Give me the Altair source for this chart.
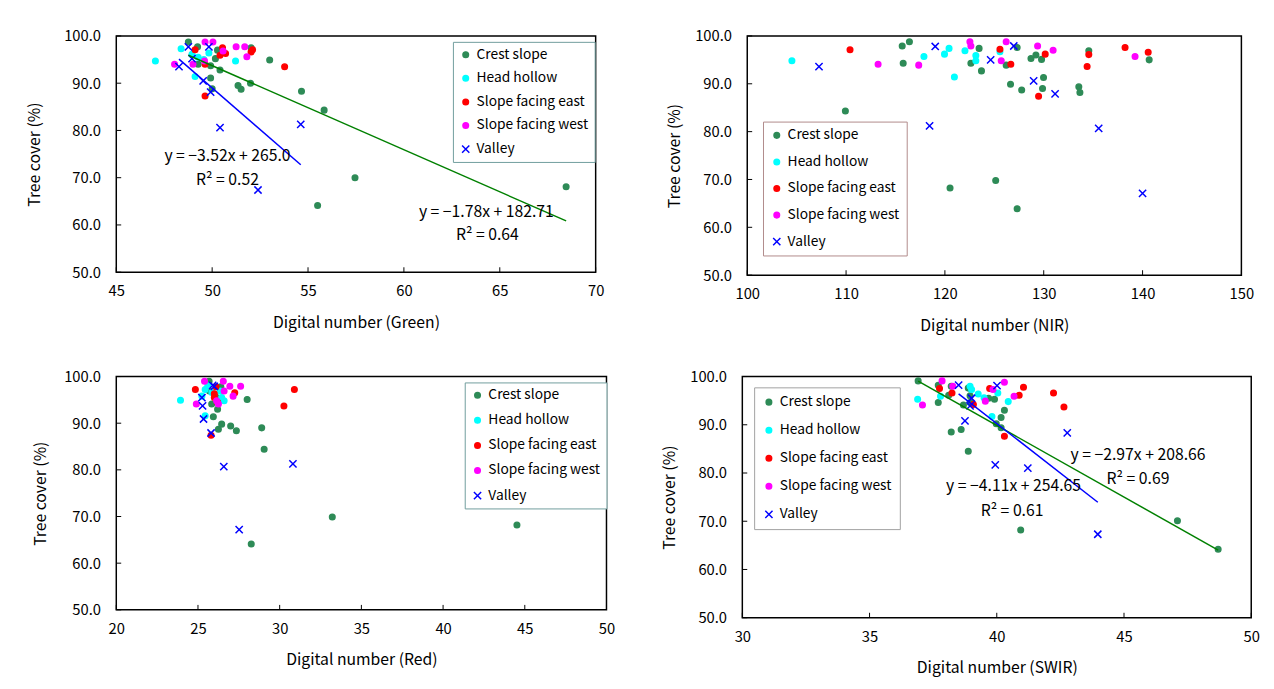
import altair as alt
import pandas as pd

FONT = "Noto Sans CJK JP"
GROUPS = ["Crest slope", "Head hollow", "Slope facing east", "Slope facing west", "Valley"]
COLORS = ["#2E8B57", "#00FFFF", "#FF0000", "#FF00FF", "#0000FF"]
FILLS = ["#2E8B57", "#00FFFF", "#FF0000", "#FF00FF", "transparent"]
CROSS = "M-1.3,-1.3L1.3,1.3M-1.3,1.3L1.3,-1.3"
SHAPES = ["circle", "circle", "circle", "circle", CROSS]
Y_TICKS = [50, 60, 70, 80, 90, 100]

# ---------------- Panel 1: Green ----------------
G_CREST_X = [48.76, 49.24, 50.28, 50.17, 52.03, 53.00, 49.27, 49.92, 50.41, 49.92, 51.35, 51.51, 52.00, 54.66, 50.00, 55.84, 57.45, 55.50, 68.46]
G_CREST_Y = [98.7, 97.7, 97.0, 95.2, 97.5, 94.9, 94.0, 93.7, 92.8, 91.1, 89.5, 88.7, 90.0, 88.3, 88.8, 84.3, 70.0, 64.1, 68.1]
G_HEAD_X = [48.38, 47.04, 49.83, 48.95, 49.27, 51.22, 49.57, 49.11]
G_HEAD_Y = [97.3, 94.7, 96.4, 96.1, 95.5, 94.7, 95.0, 91.4]
G_EAST_X = [49.11, 50.54, 50.41, 50.70, 52.11, 52.03, 53.78, 49.63, 49.63]
G_EAST_Y = [97.1, 97.5, 95.9, 96.3, 97.1, 96.6, 93.5, 94.0, 87.3]
G_WEST_X = [49.63, 50.04, 50.57, 51.25, 51.70, 51.81, 48.04, 49.00, 49.60]
G_WEST_Y = [98.7, 98.7, 96.8, 97.7, 97.7, 95.6, 94.0, 94.0, 94.7]
G_VALLEY_X = [48.76, 49.83, 48.27, 48.95, 49.53, 49.92, 50.41, 54.62, 52.39]
G_VALLEY_Y = [97.7, 97.7, 93.5, 95.2, 90.5, 88.1, 80.6, 81.3, 67.4]

# ---------------- Panel 2: NIR ----------------
N_CREST_X = [115.68, 116.41, 115.78, 122.63, 123.46, 123.70, 126.20, 126.64, 127.31, 127.77, 128.71, 129.21, 129.78, 129.98, 129.88, 133.55, 133.66, 134.56, 140.67, 109.93, 120.52, 125.14, 127.31]
N_CREST_Y = [97.9, 98.8, 94.3, 94.3, 97.4, 92.7, 93.9, 89.9, 97.6, 88.7, 95.3, 96.0, 95.1, 91.3, 89.0, 89.4, 88.2, 96.9, 95.0, 84.3, 68.2, 69.8, 63.9]
N_HEAD_X = [104.52, 117.88, 119.96, 120.42, 122.03, 123.13, 123.13, 120.96, 125.57]
N_HEAD_Y = [94.8, 95.7, 96.2, 97.4, 96.9, 95.9, 94.8, 91.4, 96.7]
N_EAST_X = [110.40, 125.57, 126.67, 129.48, 130.15, 134.39, 134.56, 138.23, 140.57]
N_EAST_Y = [97.1, 97.2, 94.1, 87.4, 96.2, 93.6, 96.1, 97.6, 96.6]
N_WEST_X = [113.24, 117.35, 122.53, 122.63, 125.70, 126.20, 129.38, 130.95, 139.24]
N_WEST_Y = [94.1, 93.9, 98.8, 97.9, 94.8, 98.8, 97.9, 97.0, 95.7]
N_VALLEY_X = [107.26, 119.02, 124.63, 126.97, 128.98, 131.15, 118.45, 135.56, 140.00]
N_VALLEY_Y = [93.6, 97.8, 95.0, 97.9, 90.6, 87.9, 81.2, 80.7, 67.1]

# ---------------- Panel 3: Red ----------------
R_CREST_X = [25.68, 28.01, 28.90, 29.05, 26.45, 26.25, 27.00, 27.35, 25.94, 26.20, 25.84, 28.26, 33.22, 44.52, 26.10, 25.70, 26.40]
R_CREST_Y = [99.0, 95.1, 89.0, 84.4, 89.8, 88.7, 89.4, 88.4, 91.4, 93.0, 94.1, 64.1, 69.9, 68.2, 95.6, 96.9, 97.8]
R_HEAD_X = [23.93, 25.44, 25.44, 25.24, 26.45, 26.35, 25.85, 26.60, 25.60]
R_HEAD_Y = [94.9, 91.6, 97.2, 95.8, 95.5, 96.9, 96.6, 94.8, 98.0]
R_EAST_X = [24.84, 27.25, 30.90, 30.26, 25.80, 26.00, 26.00, 26.10, 26.20]
R_EAST_Y = [97.2, 96.5, 97.2, 93.7, 87.4, 96.3, 95.5, 97.8, 94.5]
R_WEST_X = [25.40, 26.55, 26.95, 27.61, 27.15, 24.90, 26.14, 26.25, 26.60]
R_WEST_Y = [99.0, 99.0, 97.9, 97.9, 95.8, 94.1, 94.8, 94.1, 96.9]
R_VALLEY_X = [26.00, 25.90, 25.34, 25.80, 25.24, 25.28, 26.58, 30.81, 27.52]
R_VALLEY_Y = [97.9, 98.1, 90.9, 87.9, 95.5, 93.7, 80.7, 81.3, 67.2]

# ---------------- Panel 4: SWIR ----------------
S_CREST_X = [36.91, 37.70, 37.70, 38.21, 38.11, 38.88, 38.69, 38.95, 39.68, 39.91, 40.17, 40.30, 39.98, 40.17, 38.21, 38.60, 38.88, 40.94, 47.10, 48.70, 38.95]
S_CREST_Y = [99.1, 98.2, 94.6, 98.0, 96.1, 97.6, 94.1, 94.6, 95.5, 95.3, 91.5, 93.0, 90.2, 89.4, 88.5, 89.0, 84.5, 68.2, 70.1, 64.2, 96.0]
S_HEAD_X = [36.89, 37.79, 38.95, 39.01, 39.27, 39.50, 40.04, 40.45, 39.81]
S_HEAD_Y = [95.3, 95.9, 98.0, 97.3, 96.4, 95.6, 96.6, 94.8, 91.7]
S_EAST_X = [37.75, 38.24, 39.08, 39.72, 40.30, 40.88, 41.05, 42.23, 42.64]
S_EAST_Y = [97.5, 96.6, 94.2, 97.5, 87.6, 96.1, 97.8, 96.6, 93.7]
S_WEST_X = [37.08, 37.85, 38.27, 39.55, 39.85, 40.30, 40.68]
S_WEST_Y = [94.1, 99.1, 98.0, 94.9, 97.3, 98.8, 95.9]
S_VALLEY_X = [38.50, 40.01, 39.01, 38.95, 38.75, 42.77, 39.94, 41.22, 43.97]
S_VALLEY_Y = [98.2, 98.1, 95.5, 93.9, 90.8, 88.3, 81.7, 81.0, 67.3]

# Trend lines (group, slope, intercept, colour) and equation labels
G_TRENDS = [("Crest slope", -1.78, 182.71, "#008000"), ("Valley", -3.52, 265.0, "#0000FF")]
G_NOTES = [("y = \u22123.52x + 265.0", 50.8, 74.5), ("R\u00b2 = 0.52", 50.8, 69.6),
           ("y = \u22121.78x + 182.71", 64.3, 62.7), ("R\u00b2 = 0.64", 64.35, 57.9)]
S_TRENDS = [("Crest slope", -2.97, 208.66, "#008000"), ("Valley", -4.11, 254.65, "#0000FF")]
S_NOTES = [("y = \u22122.97x + 208.66", 45.55, 83.7), ("R\u00b2 = 0.69", 45.55, 78.8),
           ("y = \u22124.11x + 254.65", 40.66, 77.3), ("R\u00b2 = 0.61", 40.6, 72.2)]


def panel(series, xdom, xticks, xtitle, w, h, leg, trends=(), notes=(), ytitlepad=12):
    rows = []
    for g, (xs, ys) in zip(GROUPS, series):
        rows += [{"x": a, "y": b, "group": g} for a, b in zip(xs, ys)]
    df = pd.DataFrame(rows)
    xscale = alt.Scale(domain=xdom, nice=False, zero=False)
    yscale = alt.Scale(domain=[50, 100], nice=False, zero=False)
    xaxis = alt.Axis(values=xticks, format="d", title=xtitle, ticks=False, domain=False, grid=False,
                     labelFont=FONT, labelFontSize=15, labelColor="black", labelPadding=12,
                     titleFont=FONT, titleFontSize=16, titleFontWeight="normal", titleColor="black",
                     titlePadding=16, labelFlush=False)
    yaxis = alt.Axis(values=Y_TICKS, format=".1f", title="Tree cover (%)", ticks=False, domain=False,
                     grid=False, labelFont=FONT, labelFontSize=15, labelColor="black", labelPadding=16,
                     titleFont=FONT, titleFontSize=16, titleFontWeight="normal", titleColor="black",
                     titlePadding=ytitlepad, labelFlush=False)
    legend = alt.Legend(title=None, orient="none", legendX=leg[0], legendY=leg[1], direction="vertical",
                        fillColor="white", strokeColor=leg[2], padding=leg[4], labelFont=FONT,
                        labelFontSize=14, labelColor="black", rowPadding=leg[3], symbolSize=32,
                        symbolStrokeWidth=1.5, labelOffset=4)

    def X(field):
        return alt.X(field, scale=xscale, axis=xaxis)

    def Y(field):
        return alt.Y(field, scale=yscale, axis=yaxis)

    pts = alt.Chart(df).mark_point(opacity=1, strokeWidth=1.5, size=32).encode(
        x=X("x:Q"), y=Y("y:Q"),
        fill=alt.Fill("group:N", scale=alt.Scale(domain=GROUPS, range=FILLS), legend=legend),
        stroke=alt.Stroke("group:N", scale=alt.Scale(domain=GROUPS, range=COLORS), legend=legend),
        shape=alt.Shape("group:N", scale=alt.Scale(domain=GROUPS, range=SHAPES), legend=legend),
    )
    xt = alt.Chart(pd.DataFrame({"x": xticks})).mark_rule(color="black", strokeWidth=1).encode(
        x=X("x:Q"), y=alt.value(h), y2=alt.value(h - 5))
    yt = alt.Chart(pd.DataFrame({"y": Y_TICKS})).mark_rule(color="black", strokeWidth=1).encode(
        y=Y("y:Q"), x=alt.value(0), x2=alt.value(5))
    layers = [xt, yt, pts]
    for g, slope, icpt, col in trends:
        sub = df[df["group"] == g]
        x0, x1 = float(sub["x"].min()), float(sub["x"].max())
        ldf = pd.DataFrame({"x": [x0, x1], "y": [slope * x0 + icpt, slope * x1 + icpt]})
        layers.append(alt.Chart(ldf).mark_line(color=col, strokeWidth=1.5).encode(
            x=X("x:Q"), y=Y("y:Q")))
    if notes:
        ndf = pd.DataFrame({"t": [n[0] for n in notes], "x": [n[1] for n in notes], "y": [n[2] for n in notes]})
        layers.append(alt.Chart(ndf).mark_text(font=FONT, fontSize=16, color="black", align="center",
                                               baseline="middle").encode(
            x=X("x:Q"), y=Y("y:Q"), text="t:N"))
    return alt.layer(*layers).properties(width=w, height=h)


p1 = panel([(G_CREST_X, G_CREST_Y), (G_HEAD_X, G_HEAD_Y), (G_EAST_X, G_EAST_Y), (G_WEST_X, G_WEST_Y),
            (G_VALLEY_X, G_VALLEY_Y)], [45, 70], [45, 50, 55, 60, 65, 70], "Digital number (Green)",
           487, 240, (342, 6, "#6f9c9c", 10, 6), G_TRENDS, G_NOTES, ytitlepad=22)
p2 = panel([(N_CREST_X, N_CREST_Y), (N_HEAD_X, N_HEAD_Y), (N_EAST_X, N_EAST_Y), (N_WEST_X, N_WEST_Y),
            (N_VALLEY_X, N_VALLEY_Y)], [100, 150], [100, 110, 120, 130, 140, 150], "Digital number (NIR)",
           502, 243, (16, 87, "#b08a8a", 13, 7))
p3 = panel([(R_CREST_X, R_CREST_Y), (R_HEAD_X, R_HEAD_Y), (R_EAST_X, R_EAST_Y), (R_WEST_X, R_WEST_Y),
            (R_VALLEY_X, R_VALLEY_Y)], [20, 50], [20, 25, 30, 35, 40, 45, 50], "Digital number (Red)",
           498, 237, (354, 6, "#6f9c9c", 11.5, 6), ytitlepad=15)
p4 = panel([(S_CREST_X, S_CREST_Y), (S_HEAD_X, S_HEAD_Y), (S_EAST_X, S_EAST_Y), (S_WEST_X, S_WEST_Y),
            (S_VALLEY_X, S_VALLEY_Y)], [30, 50], [30, 35, 40, 45, 50], "Digital number (SWIR)",
           517, 245, (12, 11, "#a0a0a0", 14.5, 8), S_TRENDS, S_NOTES)

IND = dict(fill="independent", stroke="independent", shape="independent")
row1 = alt.hconcat(p1, p2, spacing=61).resolve_scale(**IND)
row2 = alt.hconcat(p3, p4, spacing=45).resolve_scale(**IND)
chart = alt.concat(row1, row2, columns=1, align="none", spacing=35).resolve_scale(**IND).properties(
    padding={"left": 17, "top": 15, "right": 5, "bottom": 5}, background="white"
).configure_view(stroke="black", strokeWidth=1.5)

chart.save("out.html", embed_options={"renderer": "svg", "actions": False})
